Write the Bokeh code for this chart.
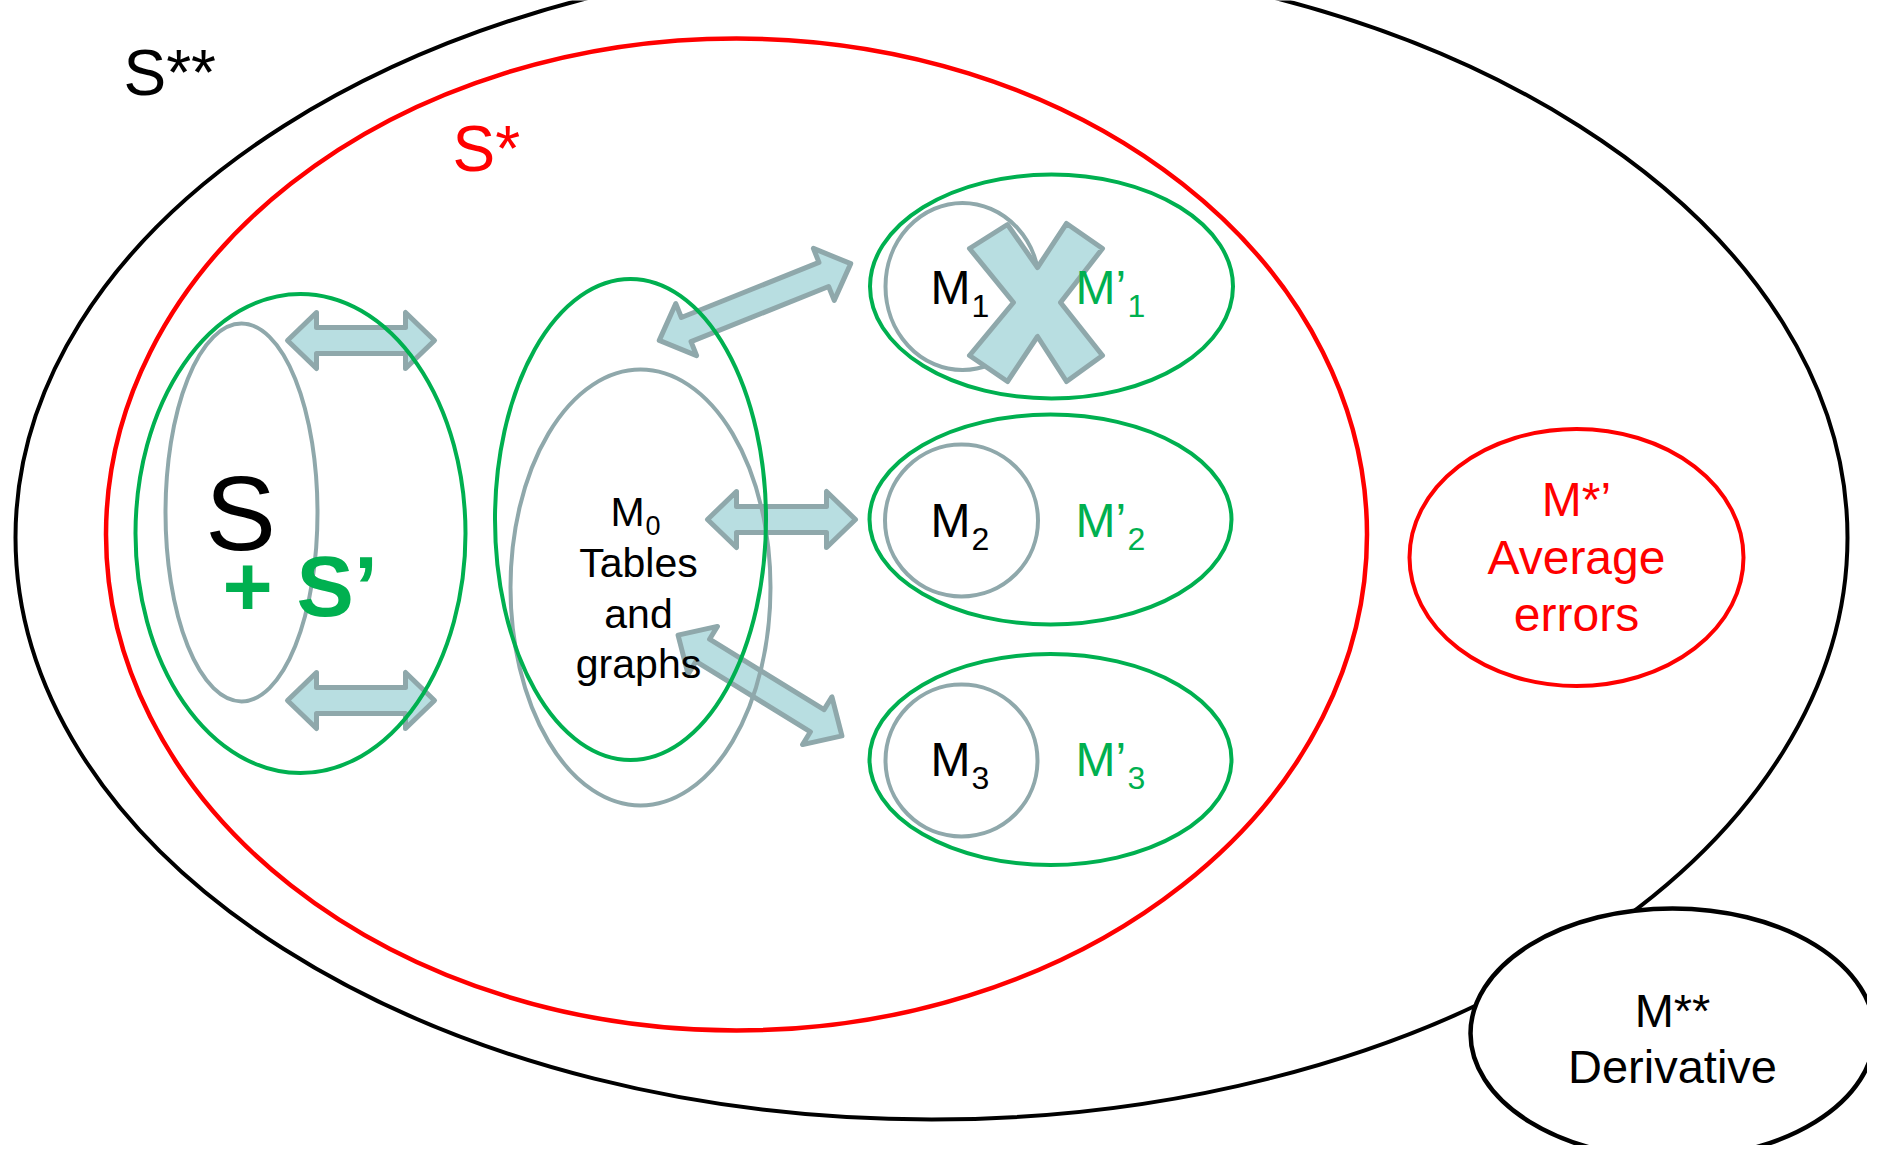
import numpy as np
from bokeh.plotting import figure
from bokeh.models import Range1d, ColumnDataSource
from bokeh.core.properties import value
from bokeh.embed import file_html
from bokeh.resources import INLINE

# ---------------- data (reference pixel coordinates) ----------------
# big sets: S** (black), S* (red), M** (black, filled), M*' (red)
outer_x, outer_y, outer_w, outer_h = [931], [537], [1832], [1164]
red_x, red_y, red_w, red_h = [736], [534], [1261], [992]
mss_x, mss_y, mss_w, mss_h = [1672], [1033], [404], [250]
msp_x, msp_y, msp_w, msp_h = [1576], [557], [334], [257]

# green ellipses: S', M0 group, M'1, M'2, M'3
green_x = [300, 630, 1051, 1050, 1050]
green_y = [533, 519, 286, 519, 759]
green_w = [330, 271, 363, 362, 362]
green_h = [479, 481, 224, 210, 211]

# grey ellipses: S, M0, M1, M2, M3
grey_x = [241, 640, 962, 961, 961]
grey_y = [512, 587, 286, 520, 760]
grey_w = [152, 260, 154, 153, 152]
grey_h = [378, 436, 167, 152, 152]

# double arrows (tip to tip)
arrow_x0 = [284, 284, 656, 704, 675]
arrow_y0 = [340, 700, 341, 519, 633]
arrow_x1 = [437, 437, 853, 858, 844]
arrow_y1 = [340, 700, 262, 519, 737]

# X mark over M1
cross_x = [969, 1007, 1037, 1066, 1102, 1060, 1102, 1066, 1037, 1007, 969, 1013]
cross_y = [248, 224, 267, 223, 248, 302, 355, 381, 336, 381, 355, 302]

# labels
lab_big = ["S**", "S*"]
lab_big_x = [123, 452]
lab_big_y = [96, 172]
lab_big_col = ["black", "#FF0000"]

m_rows_y = [305, 538, 777]
m_main = ["M", "M", "M"]
m_sub = ["1", "2", "3"]
mp_main = ["M\u2019", "M\u2019", "M\u2019"]

m0_lines = ["Tables", "and", "graphs"]
m0_lines_y = [578, 629, 679]

msp_lines = ["M*\u2019", "Average", "errors"]
msp_lines_y = [517, 575, 632]

mss_lines = ["M**", "Derivative"]
mss_lines_y = [1027, 1083]

# ---------------- styles ----------------
GREEN = "#00B050"
RED = "#FF0000"
GREY = "#8FA8AB"
ARROW_FILL = "#B8DEE1"
FONT = value("Liberation Sans")
BASE_SHIFT = 0.37  # em, baseline correction of the renderer

p = figure(width=1867, height=1145, x_range=Range1d(0, 1867), y_range=Range1d(1145, 0),
           output_backend="svg", toolbar_location=None, x_axis_type=None, y_axis_type=None,
           min_border=0, outline_line_color=None)
p.background_fill_color = "white"
p.border_fill_color = "white"

p.ellipse(x=outer_x, y=outer_y, width=outer_w, height=outer_h, fill_color=None,
          line_color="black", line_width=4)
p.ellipse(x=red_x, y=red_y, width=red_w, height=red_h, fill_color=None,
          line_color=RED, line_width=4.5)
p.ellipse(x=mss_x, y=mss_y, width=mss_w, height=mss_h, fill_color="white",
          line_color="black", line_width=4.5)

# arrows
SH, HH, HL, INSET = 13.0, 28.0, 29.0, 3.0
axs, ays = [], []
for x0, y0, x1, y1 in zip(arrow_x0, arrow_y0, arrow_x1, arrow_y1):
    a = np.array([x0, y0], float)
    b = np.array([x1, y1], float)
    u = (b - a) / np.linalg.norm(b - a)
    n = np.array([-u[1], u[0]])
    a = a + INSET * u
    b = b - INSET * u
    pts = [a, a + HL * u + HH * n, a + HL * u + SH * n, b - HL * u + SH * n,
           b - HL * u + HH * n, b, b - HL * u - HH * n, b - HL * u - SH * n,
           a + HL * u - SH * n, a + HL * u - HH * n]
    axs.append([q[0] for q in pts])
    ays.append([q[1] for q in pts])
p.patches(xs=axs, ys=ays, fill_color=ARROW_FILL, line_color=GREY, line_width=5,
          line_join="round")

p.ellipse(x=grey_x, y=grey_y, width=grey_w, height=grey_h, fill_color=None,
          line_color=GREY, line_width=4)
p.ellipse(x=green_x, y=green_y, width=green_w, height=green_h, fill_color=None,
          line_color=GREEN, line_width=4)
p.ellipse(x=msp_x, y=msp_y, width=msp_w, height=msp_h, fill_color=None,
          line_color=RED, line_width=4)

p.patch(x=cross_x, y=cross_y, fill_color=ARROW_FILL, line_color=GREY, line_width=5,
        line_join="round")

# texts
def txt(xs, ys, texts, size, color, align="left", style="normal"):
    ys = [v - BASE_SHIFT * size for v in ys]
    src = ColumnDataSource(dict(x=xs, y=ys, text=texts))
    p.text(x="x", y="y", text="text", source=src, text_font=FONT,
           text_font_size=value(f"{size}px"), text_color=color, text_align=align,
           text_baseline="alphabetic", text_font_style=style)

txt([lab_big_x[0]], [lab_big_y[0]], [lab_big[0]], 64, lab_big_col[0])
txt([lab_big_x[1]], [lab_big_y[1]], [lab_big[1]], 64, lab_big_col[1])
txt([240], [552], ["S"], 106, "black", align="center")
txt([222], [617], ["+ S\u2019"], 86, GREEN, style="bold")

txt([930] * 3, m_rows_y, m_main, 48, "black")
txt([971] * 3, [v + 12 for v in m_rows_y], m_sub, 32, "black")
txt([1075] * 3, m_rows_y, mp_main, 48, GREEN)
txt([1127] * 3, [v + 12 for v in m_rows_y], m_sub, 32, GREEN)

txt([610], [527], ["M"], 41, "black")
txt([645], [535], ["0"], 27, "black")
txt([638] * 3, m0_lines_y, m0_lines, 41, "black", align="center")

txt([1576] * 3, msp_lines_y, msp_lines, 48, RED, align="center")
txt([1672] * 2, mss_lines_y, mss_lines, 47, "black", align="center")

open("out.html", "w").write(file_html(p, INLINE))
